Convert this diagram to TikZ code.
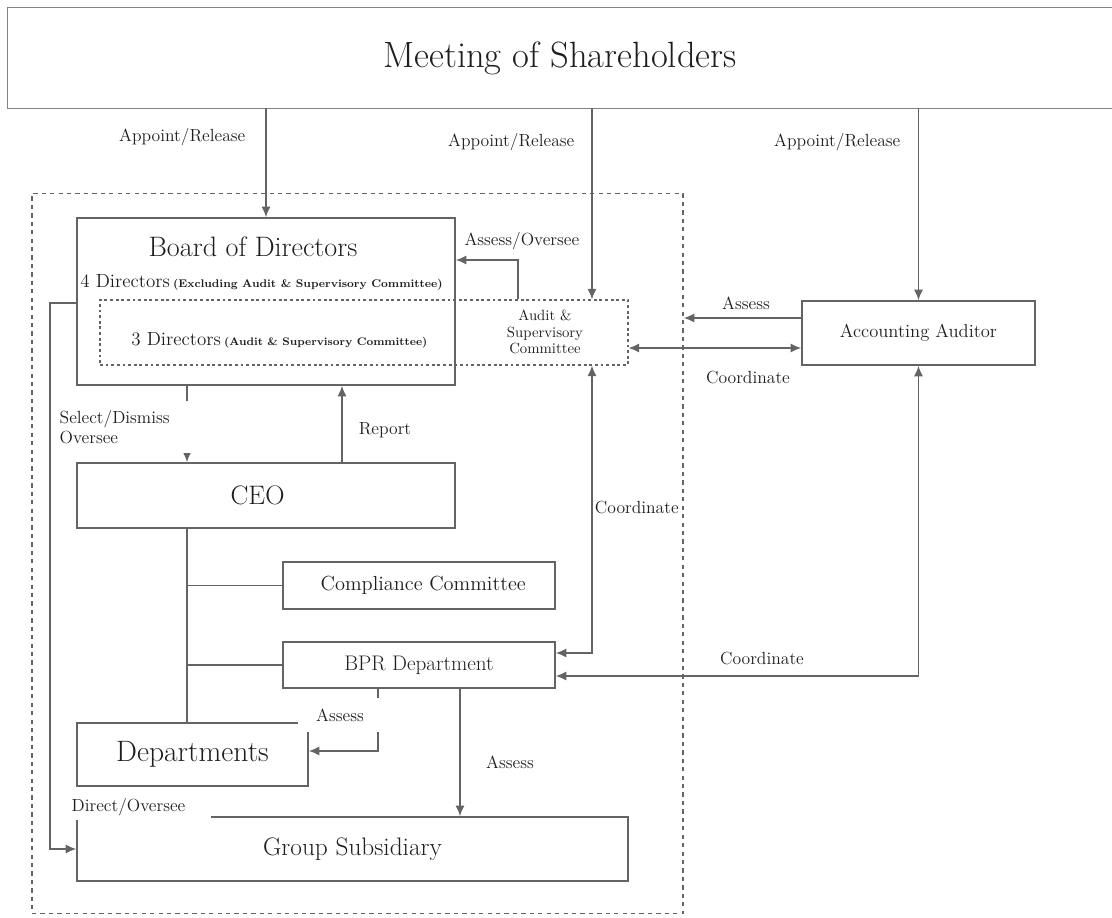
\documentclass[tikz,border=0pt]{standalone}
\usepackage{fontspec}
\usetikzlibrary{arrows.meta}

\definecolor{linegray}{RGB}{100,100,100}
\definecolor{txtgray}{RGB}{30,30,30}

\tikzset{
    wh/.style 2 args={minimum width={#1*0.025cm}, minimum height={#2*0.025cm}},
    box/.style={draw=linegray, line width=1.1pt, inner sep=0pt, text=txtgray},
    dbox/.style={draw=linegray, line width=1pt, dash pattern=on 3pt off 3pt},
    lbl/.style={font=\fontsize{12.5}{14.5}\selectfont, text=txtgray, inner sep=1pt},
    link/.style={draw=linegray, line width=1.1pt},
    arr/.style={link, -{Latex[length=7.5pt,width=6.5pt]}},
    dbl/.style={link, {Latex[length=7.5pt,width=6.5pt]}-{Latex[length=7.5pt,width=6.5pt]}},
}

\begin{document}
\begin{tikzpicture}[x=0.025cm, y=-0.025cm]
    \useasboundingbox (0,0) rectangle (1112,918);

    % boxes
    \node[text=txtgray, inner sep=0pt, wh={1104}{100}, font=\fontsize{26}{30}\selectfont] (meet) at (560,58) {Meeting of Shareholders};
    \draw[link, draw=linegray!80] ([xshift=1cm]meet.north east) -- (meet.north west) -- (meet.south west) -- ([xshift=1cm]meet.south east);
    \node[dbox, wh={651}{720}] (gov) at (357.5,553.5) {};
    \node[box, wh={378}{167}] (board) at (266,301.5) {};
    \node[dbox, dash pattern=on 2pt off 2pt, line width=0.8pt, wh={528}{65}] (acdash) at (364,332.5) {};
    \node[box, wh={233}{64}, font=\fontsize{13.2}{15}\selectfont] (aud) at (918.5,333) {Accounting Auditor};
    \node[box, wh={378}{65}, font=\fontsize{19}{22}\selectfont] (ceo) at (266,495.5) {\hspace*{-12pt}CEO};
    \node[box, wh={272}{47}, font=\fontsize{14.5}{17}\selectfont] (comp) at (419,585.5) {\hspace*{6pt}Compliance Committee};
    \node[box, wh={272}{46}, font=\fontsize{15}{17}\selectfont] (bpr) at (419,665) {BPR Department};
    \node[box, wh={231}{63}, font=\fontsize{21}{24}\selectfont] (dept) at (192.5,754.5) {Departments};
    \node[box, wh={551}{64}, font=\fontsize{18}{21}\selectfont] (grp) at (352.5,849) {Group Subsidiary};

    % texts inside the board
    \node[text=txtgray, font=\fontsize{20}{23}\selectfont] (bodtitle) at (253,247) {Board of Directors};
    \node[text=txtgray, anchor=west, inner sep=0pt] (dir4) at (80,282)
        {\fontsize{13.5}{15}\selectfont 4 Directors\,{\fontsize{7.9}{9}\selectfont\bfseries(Excluding Audit \& Supervisory Committee)}};
    \node[text=txtgray, anchor=west, inner sep=0pt] (dir3) at (131,340)
        {\fontsize{13.5}{15}\selectfont 3 Directors\,{\fontsize{7.8}{9}\selectfont\bfseries(Audit \& Supervisory Committee)}};
    \node[text=txtgray, font=\fontsize{10.5}{12}\selectfont, align=center] (acom) at (545,332)
        {Audit \&\\Supervisory\\Committee};

    % helper points
    \coordinate (c1) at (592,0);
    \coordinate (c2) at (518,260);
    \coordinate (c3) at (0,318);
    \coordinate (c4) at (0,348);
    \coordinate (c5) at (592,653);
    \coordinate (c6) at (0,676);
    \coordinate (c7) at (187,0);
    \coordinate (c8) at (342,0);
    \coordinate (c9) at (378,751);
    \coordinate (c10) at (460,0);
    \coordinate (c11) at (50,303);

    % connectors
    \draw[arr] (board.north |- meet.south) -- (board.north);
    \draw[arr] (c1 |- meet.south) -- (c1 |- acdash.north);
    \draw[arr] (aud.north |- meet.south) -- (aud.north);
    \draw[arr] (c2 |- acdash.north) -- (c2) -- (c2 -| board.east);
    \draw[arr] (aud.west |- c3) -- (gov.east |- c3);
    \draw[dbl] (acdash.east |- c4) -- (aud.west |- c4);
    \draw[dbl] (c1 |- acdash.south) -- (c5) -- (c5 -| bpr.east);
    \draw[dbl] (aud.south) -- (aud.south |- c6) -- (bpr.east |- c6);
    \draw[arr] (c7 |- board.south) -- (c7 |- ceo.north);
    \draw[arr] (c8 |- ceo.north) -- (c8 |- board.south);
    \draw[link] (c7 |- ceo.south) -- (c7 |- dept.north);
    \draw[link] (c7 |- comp.west) -- (comp.west);
    \draw[link] (c7 |- bpr.west) -- (bpr.west);
    \draw[arr] (c9 |- bpr.south) -- (c9) -- (c9 -| dept.east);
    \draw[arr] (c10 |- bpr.south) -- (c10 |- grp.north);
    \draw[arr] (c11 -| board.west) -- (c11) |- (grp.west);

    % labels
    \node[lbl, anchor=east] (ap1) at (247,137) {Appoint/Release};
    \node[lbl, anchor=east] (ap2) at (576,142) {Appoint/Release};
    \node[lbl, anchor=east] (ap3) at (902,142) {Appoint/Release};
    \node[lbl, anchor=west, fill=white, inner sep=3pt] (aso) at (460,241) {Assess/Oversee};
    \node[lbl] (asa) at (746,303) {Assess};
    \node[lbl] (coa) at (748,377) {Coordinate};
    \node[lbl, anchor=west, fill=white, inner xsep=0.5pt, inner ysep=12pt] (cob) at (594,507) {Coordinate};
    \node[lbl] (coc) at (762,658) {Coordinate};
    \node[lbl, anchor=north west, fill=white, align=left, text width={132*0.025cm}, minimum height={52*0.025cm}] (sel) at (58,401) {Select/Dismiss\\Oversee};
    \node[lbl] (rep) at (385,430) {Report};
    \node[lbl, fill=white, wh={85}{34}] (asd) at (340,715) {Assess};
    \node[lbl] (asg) at (510,762) {Assess};
    \node[lbl, anchor=west, fill=white, align=left, text width={138*0.025cm}, minimum height={25*0.025cm}] (dro) at (70,807) {Direct/Oversee};
\end{tikzpicture}
\end{document}
